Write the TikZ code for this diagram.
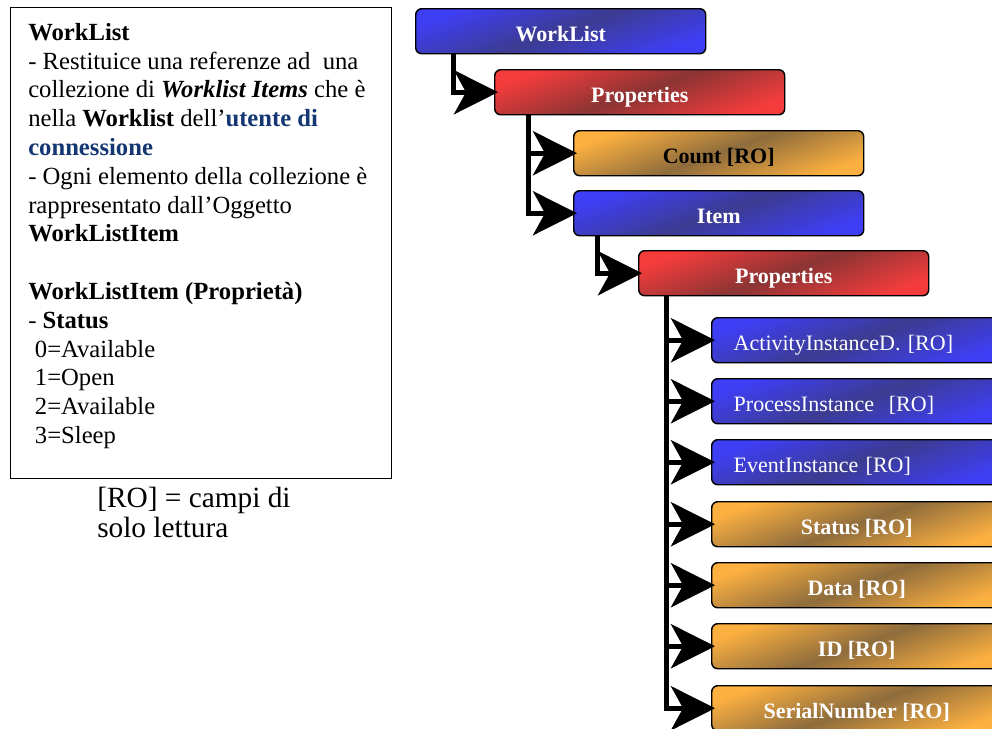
\documentclass[tikz,border=0pt]{standalone}
\usepackage{fontspec}
\setmainfont{Liberation Serif}
\usetikzlibrary{arrows.meta}

\definecolor{bluA}{RGB}{62,62,245}
\definecolor{bluB}{RGB}{60,60,145}
\definecolor{redA}{RGB}{245,60,60}
\definecolor{redB}{RGB}{140,52,52}
\definecolor{ornA}{RGB}{252,176,64}
\definecolor{ornB}{RGB}{142,108,60}
\definecolor{linkblue}{RGB}{20,55,115}

\begin{document}
\begin{tikzpicture}[x=0.75pt,y=-0.75pt,
  box/.style={draw=black, line width=1.1pt, rounded corners=4.5pt,
    minimum width=217.5pt, minimum height=33.75pt, inner sep=0pt,
    anchor=north west, text=white, text height=16.5pt, text depth=1.8pt,
    font=\fontsize{16.5}{19}\selectfont\bfseries},
  sheen/.style 2 args={left color=#1, right color=#1, middle color=#2, shading angle=20},
  bluebox/.style={box, sheen={bluA}{bluB}},
  redbox/.style={box, sheen={redA}{redB}},
  orangebox/.style={box, sheen={ornA}{ornB}},
  leftlabel/.style={font=\fontsize{16.5}{19}\selectfont, align=left,
    text width=184.5pt, inner xsep=16.5pt},
  link/.style={line width=3.75pt, line join=miter, shorten >=-3pt,
    -{Stealth[length=33pt,width=33pt,inset=9pt]}},
]
\clip (0,0) rectangle (992,728);

% description panel
\node[draw=black, line width=1.1pt, minimum width=285.75pt, minimum height=353.25pt,
      inner sep=0pt, anchor=north west] (infobox) at (10,7) {};
\node[anchor=north west, inner sep=0pt, align=left,
      font=\fontsize{18.5}{21.6}\selectfont] (infotext) at (28,23) {%
\textbf{WorkList}\\
- Restituice una referenze ad\ \ una\\
collezione di \textbf{\textit{Worklist Items}} che è\\
nella \textbf{Worklist} dell’\textcolor{linkblue}{\textbf{utente di}}\\
\textcolor{linkblue}{\textbf{connessione}}\\
- Ogni elemento della collezione è\\
rappresentato dall’Oggetto\\
\textbf{WorkListItem}\\[21.6pt]
\textbf{WorkListItem (Proprietà)}\\
- \textbf{Status}\\
\hspace*{5pt}0=Available\\
\hspace*{5pt}1=Open\\
\hspace*{5pt}2=Available\\
\hspace*{5pt}3=Sleep};

\node[anchor=north west, inner sep=0pt, align=left,
      font=\fontsize{22}{22.5}\selectfont] (legend) at (97,487) {%
[RO] = campi di\\
solo lettura};

% object tree
\node[bluebox]   (wl)    at (415,8)   {WorkList};
\node[redbox]    (p1)    at (494,69)  {Properties};
\node[orangebox, text=black] (cnt) at (573,130) {Count [RO]};
\node[bluebox]   (item)  at (573,190) {Item};
\node[redbox]    (p2)    at (638,250) {Properties};
\node[bluebox, leftlabel]  (aid)  at (711,317) {ActivityInstanceD. [RO]};
\node[bluebox, leftlabel]  (pid)  at (711,378) {ProcessInstance\ \ [RO]};
\node[bluebox, leftlabel]  (eid)  at (711,439) {EventInstance [RO]};
\node[orangebox] (st)    at (711,501) {Status [RO]};
\node[orangebox] (dt)    at (711,562) {Data [RO]};
\node[orangebox] (idn)   at (711,623) {ID [RO]};
\node[orangebox] (sn)    at (711,685) {SerialNumber [RO]};

% connectors
\draw[link] ([xshift=28.5pt]wl.south west) |- (p1.west);
\draw[link] ([xshift=25.5pt]p1.south west) |- (cnt.west);
\draw[link] ([xshift=25.5pt]p1.south west) |- (item.west);
\draw[link] ([xshift=18pt]item.south west) |- (p2.west);
\foreach \t in {aid,pid,eid,st,dt,idn,sn}
  \draw[link] ([xshift=21pt]p2.south west) |- (\t.west);
\end{tikzpicture}
\end{document}
